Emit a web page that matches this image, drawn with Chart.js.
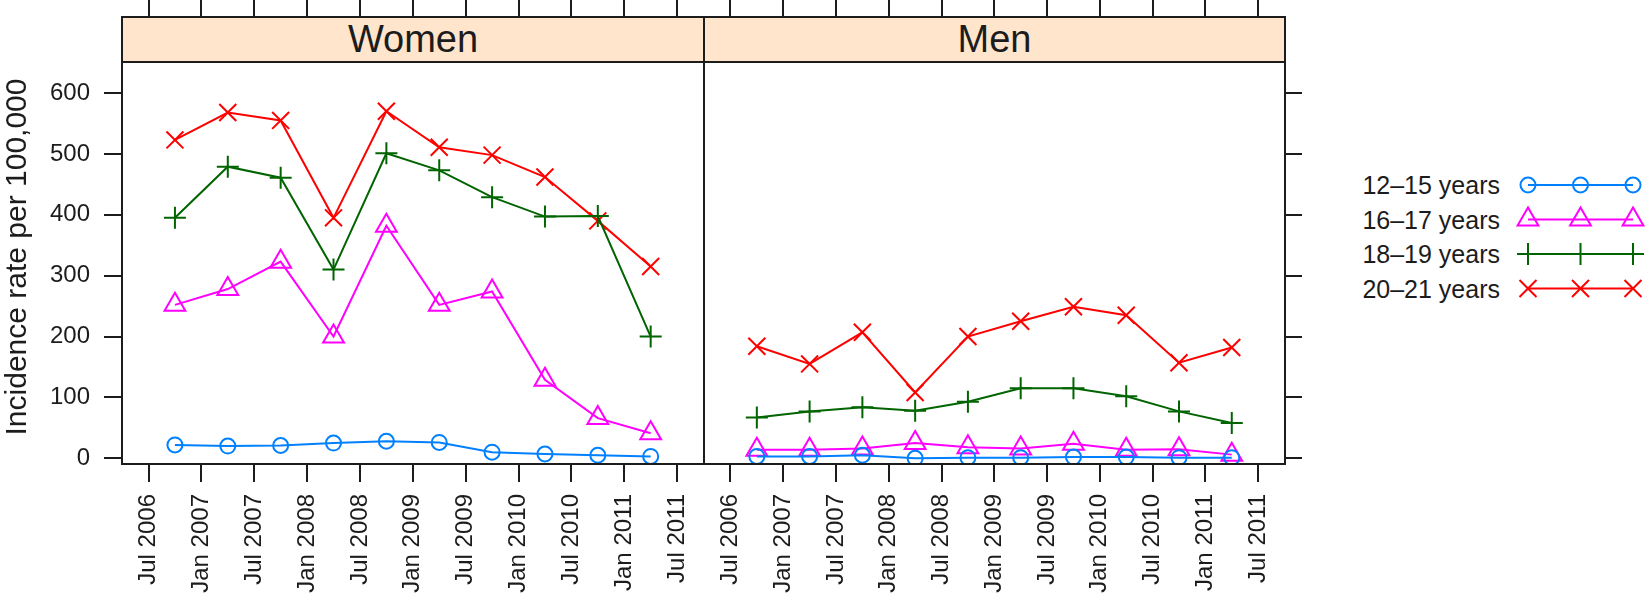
<!DOCTYPE html>
<html>
<head>
<meta charset="utf-8">
<script src="https://cdn.jsdelivr.net/npm/chart.js@4/dist/chart.umd.min.js"></script>
<style>
  html, body { margin: 0; padding: 0; background: #fff; }
  body { width: 1646px; height: 606px; position: relative; overflow: hidden;
         font-family: "Liberation Sans", Arial, Helvetica, sans-serif; color: #1c1c1c; }
  canvas { position: absolute; top: 0; }
  #cWomen { left: 0; }
  #cMen { left: 690px; }
  #cKey { left: 1505px; top: 160px; }
  .strip { position: absolute; top: 16px; height: 47px; box-sizing: border-box;
           background: #ffe5cc; border: 2px solid #1c1c1c; text-align: center;
           font-size: 38px; line-height: 36px; padding-top: 3px; }
  #ytitle { position: absolute; left: -184px; top: 239px; width: 400px; height: 36px;
            line-height: 36px; font-size: 30px; text-align: center; transform: rotate(-90deg); }
  .keytext { position: absolute; right: 146px; font-size: 25px; line-height: 30px; white-space: nowrap; }
</style>
</head>
<body>
<canvas id="cWomen" width="706" height="606"></canvas>
<canvas id="cMen" width="620" height="606"></canvas>
<canvas id="cKey" width="141" height="150"></canvas>
<div id="ytitle">Incidence rate per 100,000</div>
<div id="keyBox"></div>
<script>
// Half-year periods, plotted at the middle of each period (decimal years)
const periods = [2006.75, 2007.25, 2007.75, 2008.25, 2008.75, 2009.25, 2009.75, 2010.25, 2010.75, 2011.25];

const panelNames = ['Women', 'Men'];
const ageGroups = ['12–15 years', '16–17 years', '18–19 years', '20–21 years'];

// Incidence rate per 100,000 — women
const women12to15 = [22, 20, 21, 25, 28, 26, 10, 7, 5, 3];
const women16to17 = [252, 278, 323, 200, 382, 252, 274, 129, 66, 41];
const women18to19 = [395, 479, 461, 310, 501, 473, 429, 397, 398, 200];
const women20to21 = [523, 568, 555, 395, 570, 511, 498, 462, 390, 315];

// Incidence rate per 100,000 — men
const men12to15 = [3, 3, 5, 0, 1, 1, 2, 2, 1, 1];
const men16to17 = [14, 14, 16, 25, 18, 16, 24, 14, 15, 6];
const men18to19 = [67, 77, 84, 78, 93, 115, 115, 102, 77, 58];
const men20to21 = [184, 155, 207, 108, 200, 225, 249, 235, 157, 182];

// Axis ticks
const xTickValues = [2006.5, 2007, 2007.5, 2008, 2008.5, 2009, 2009.5, 2010, 2010.5, 2011, 2011.5];
const xTickLabels = ['Jul 2006', 'Jan 2007', 'Jul 2007', 'Jan 2008', 'Jul 2008', 'Jan 2009',
                     'Jul 2009', 'Jan 2010', 'Jul 2010', 'Jan 2011', 'Jul 2011'];
const yTickValues = [0, 100, 200, 300, 400, 500, 600];

// Styling
const INK = '#1c1c1c';
const FONT = '"Liberation Sans", Arial, Helvetica, sans-serif';
const seriesColors = ['#0080ff', '#ff00ff', '#006400', '#ff0000'];
const seriesMarkers = ['circle', 'triangle', 'cross', 'crossRot'];
const markerSizes = [7.5, 12, 11, 12];

const X_MIN = 2006.2493, X_MAX = 2011.7544;
const Y_MIN = -9.4, Y_MAX = 724.9;

function buildDatasets(seriesList) {
  return seriesList.map((vals, k) => ({
    label: ageGroups[k],
    data: periods.map((p, i) => ({ x: p, y: vals[i] })),
    borderColor: seriesColors[k],
    backgroundColor: 'rgba(0,0,0,0)',
    pointBorderColor: seriesColors[k],
    pointBackgroundColor: 'rgba(0,0,0,0)',
    pointStyle: seriesMarkers[k],
    pointRadius: markerSizes[k],
    pointBorderWidth: 2,
    borderWidth: 2,
    tension: 0,
    fill: false
  }));
}

const panelFrame = {
  id: 'panelFrame',
  afterDraw(chart) {
    const { ctx, chartArea: a } = chart;
    ctx.save();
    ctx.strokeStyle = INK;
    ctx.lineWidth = 2;
    ctx.strokeRect(a.left, a.top, a.right - a.left, a.bottom - a.top);
    ctx.restore();
  }
};

function tickMarks(len) {
  return { drawOnChartArea: false, drawTicks: true, tickLength: len, color: INK, lineWidth: 2 };
}

// Fixed axis thickness; label overhang must not shrink the plotting area
function fixedSize(prop, size) {
  return s => {
    s[prop] = size;
    s.paddingLeft = s.paddingRight = s.paddingTop = s.paddingBottom = 0;
  };
}

function makePanel(canvasId, seriesList, isLeft) {
  const scales = {
    x: {
      type: 'linear', position: 'bottom', min: X_MIN, max: X_MAX,
      afterBuildTicks: s => { s.ticks = xTickValues.map(v => ({ value: v })); },
      afterFit: fixedSize('height', 142),
      grid: tickMarks(18),
      border: { display: false },
      ticks: {
        autoSkip: false, minRotation: 90, maxRotation: 90, padding: 12,
        color: INK, font: { family: FONT, size: 24 },
        callback: v => xTickLabels[xTickValues.indexOf(v)]
      }
    },
    xTop: {
      type: 'linear', position: 'top', min: X_MIN, max: X_MAX,
      afterBuildTicks: s => { s.ticks = xTickValues.map(v => ({ value: v })); },
      afterFit: fixedSize('height', 17),
      grid: tickMarks(17),
      border: { display: false },
      ticks: { display: false }
    },
    y: {
      type: 'linear', position: isLeft ? 'left' : 'right', min: Y_MIN, max: Y_MAX,
      afterBuildTicks: s => { s.ticks = yTickValues.map(v => ({ value: v })); },
      afterFit: fixedSize('width', isLeft ? 122 : 25),
      grid: tickMarks(isLeft ? 18 : 17),
      border: { display: false },
      ticks: isLeft
        ? { padding: 14, color: INK, font: { family: FONT, size: 24 } }
        : { display: false }
    }
  };
  return new Chart(document.getElementById(canvasId), {
    type: 'line',
    data: { datasets: buildDatasets(seriesList) },
    options: {
      responsive: false, animation: false, events: [],
      layout: {
        autoPadding: false,
        padding: isLeft ? { left: 0, right: 2, top: 0, bottom: 0 }
                        : { left: 14, right: 0, top: 0, bottom: 0 }
      },
      plugins: { legend: { display: false }, tooltip: { enabled: false } },
      scales
    },
    plugins: [panelFrame]
  });
}

const womenChart = makePanel('cWomen', [women12to15, women16to17, women18to19, women20to21], true);
const menChart = makePanel('cMen', [men12to15, men16to17, men18to19, men20to21], false);

// Strip labels above each panel, spanning each chart's plotting width
[womenChart, menChart].forEach((ch, i) => {
  const off = i === 0 ? 0 : 690;
  const d = document.createElement('div');
  d.className = 'strip';
  d.textContent = panelNames[i];
  d.style.left = (off + ch.chartArea.left - 1) + 'px';
  d.style.width = (ch.chartArea.right - ch.chartArea.left + 2) + 'px';
  document.body.appendChild(d);
});

// Key: label text plus a line with three markers per age group
const keyRows = [185, 219.5, 254, 288.5];
const keyBox = document.getElementById('keyBox');
const keyCanvas = document.getElementById('cKey');
const kctx = keyCanvas.getContext('2d');
const keyLeft = 1505, keyTop = 160;
const keyXs = [1528, 1580.5, 1633];
ageGroups.forEach((name, k) => {
  const t = document.createElement('div');
  t.className = 'keytext';
  t.textContent = name;
  t.style.top = (keyRows[k] - 15) + 'px';
  keyBox.appendChild(t);

  const y = keyRows[k] - keyTop;
  kctx.save();
  kctx.strokeStyle = seriesColors[k];
  kctx.fillStyle = 'rgba(0,0,0,0)';
  kctx.lineWidth = 2;
  kctx.beginPath();
  kctx.moveTo(keyXs[0] - keyLeft, y);
  kctx.lineTo(keyXs[2] - keyLeft, y);
  kctx.stroke();
  keyXs.forEach(x => {
    Chart.helpers.drawPoint(kctx, { pointStyle: seriesMarkers[k], radius: markerSizes[k], borderWidth: 2, rotation: 0 },
                            x - keyLeft, y);
  });
  kctx.restore();
});
</script>
</body>
</html>
